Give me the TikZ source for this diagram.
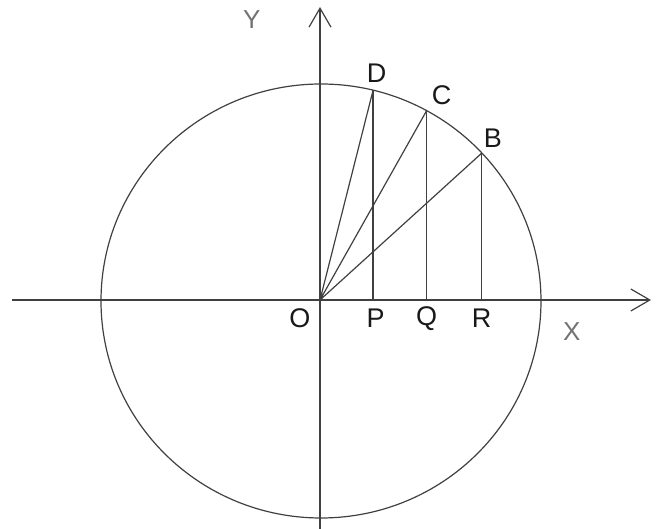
\documentclass[tikz,border=0pt]{standalone}
\usepackage{fontspec}
\setmainfont{Liberation Sans}
\usetikzlibrary{arrows.meta,calc}
\begin{document}
\begin{tikzpicture}[x=1pt,y=1pt,line width=1.2pt,color=black!75,
  axis/.style={-{Straight Barb[length=19pt,width=22pt,line width=1.2pt]}},
  ptlbl/.style={font=\fontsize{27}{27}\selectfont,text=black!90,inner sep=0pt},
  axlbl/.style={font=\fontsize{26}{26}\selectfont,text=black!55,inner sep=0pt}]
        \useasboundingbox (-320,-229) rectangle (342,300);
        %axes
        \coordinate (O) at (0,0);
        \coordinate (xl) at (-308,0);
        \coordinate (xr) at (331,0);
        \coordinate (yb) at (0,-229);
        \coordinate (yt) at (0,293);
        \draw[axis] (xl) -- (xr);
        \draw[axis] (yb) -- (yt);
        %unit circle
        \draw (1,-1) ellipse (220 and 217);
        \coordinate (B) at ($(1,-1)+(43:220 and 217)$);
        \coordinate (C) at ($(1,-1)+(61.3:220 and 217)$);
        \coordinate (D) at ($(1,-1)+(76.3:220 and 217)$);
        \coordinate (P) at (D |- O);
        \coordinate (Q) at (C |- O);
        \coordinate (R) at (B |- O);
        \draw (O) -- (B) (O) -- (C) (O) -- (D);
        \draw (D) -- (P) (C) -- (Q) (B) -- (R);
        %labels
        \node[ptlbl] (lO) at (-20,-18) {O};
        \node[ptlbl] (lP) at (55.7,-18) {P};
        \node[ptlbl] (lQ) at (106.7,-19) {Q};
        \node[ptlbl] (lR) at (161.7,-18) {R};
        \node[ptlbl] (lB) at (173,162) {B};
        \node[ptlbl] (lC) at (121.7,205) {C};
        \node[ptlbl] (lD) at (56.7,227) {D};
        \node[axlbl] (lX) at (251.7,-31.7) {X};
        \node[axlbl] (lY) at (-68.3,280) {Y};
\end{tikzpicture}
\end{document}
